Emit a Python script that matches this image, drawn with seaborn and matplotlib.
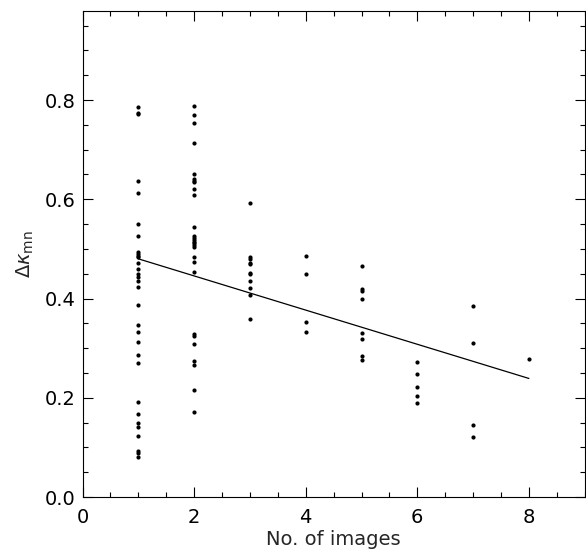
import seaborn as sns
import pandas as pd
import numpy as np
import matplotlib
matplotlib.use('Agg')
import matplotlib.pyplot as plt
from matplotlib.ticker import MultipleLocator, FormatStrFormatter

# Delta kappa values, grouped by number of images
n1 = [0.785, 0.774, 0.771, 0.637, 0.612, 0.550, 0.525, 0.494, 0.490, 0.486,
      0.483, 0.471, 0.459, 0.449, 0.443, 0.435, 0.424, 0.386, 0.346, 0.333,
      0.312, 0.286, 0.271, 0.191, 0.167, 0.149, 0.142, 0.123, 0.093, 0.088, 0.081]
n2 = [0.787, 0.769, 0.753, 0.713, 0.651, 0.641, 0.637, 0.635, 0.621, 0.608,
      0.544, 0.525, 0.521, 0.518, 0.514, 0.511, 0.508, 0.503, 0.484, 0.473,
      0.453, 0.328, 0.325, 0.308, 0.274, 0.265, 0.216, 0.172]
n3 = [0.592, 0.483, 0.479, 0.471, 0.469, 0.452, 0.449, 0.435, 0.421, 0.407, 0.359]
n4 = [0.486, 0.449, 0.353, 0.333]
n5 = [0.466, 0.419, 0.416, 0.400, 0.331, 0.318, 0.284, 0.277]
n6 = [0.273, 0.248, 0.222, 0.204, 0.189]
n7 = [0.385, 0.311, 0.145, 0.121]
n8 = [0.278]

groups = [n1, n2, n3, n4, n5, n6, n7, n8]
df = pd.DataFrame({
    'n': np.concatenate([[i + 1] * len(g) for i, g in enumerate(groups)]),
    'dk': np.concatenate(groups),
})
# trend line is fitted to the per-group means
means = df.groupby('n', as_index=False)['dk'].mean()

sns.set_style('ticks')
plt.rcParams['font.family'] = ['DejaVu Sans']

fig = plt.figure(figsize=(5.86, 5.59), dpi=100)
ax = fig.add_axes([0.1408, 0.1109, 0.857, 0.870])

sns.scatterplot(data=df, x='n', y='dk', color='black', s=9, linewidth=0, ax=ax)
sns.regplot(data=means, x='n', y='dk', scatter=False, ci=None, color='black',
            line_kws={'linewidth': 0.9}, ax=ax)

ax.set_xlim(0, 9)
ax.set_ylim(0, 0.98)
ax.xaxis.set_major_locator(MultipleLocator(2))
ax.xaxis.set_minor_locator(MultipleLocator(0.5))
ax.yaxis.set_major_locator(MultipleLocator(0.2))
ax.yaxis.set_minor_locator(MultipleLocator(0.05))
ax.yaxis.set_major_formatter(FormatStrFormatter('%.1f'))

ax.tick_params(which='both', direction='in', top=True, right=True, width=0.8,
               labelsize=14, colors='black')
ax.tick_params(which='major', length=7)
ax.tick_params(which='minor', length=3.5)
ax.tick_params(axis='x', pad=8)
ax.tick_params(axis='y', pad=5)
for sp in ax.spines.values():
    sp.set_linewidth(0.8)
    sp.set_color('black')

ax.set_xlabel('No. of images', fontsize=14, labelpad=2)
ax.set_ylabel(r'$\Delta\kappa_{\rm mn}$', fontsize=14, labelpad=6)

fig.savefig('out.png', dpi=100)
